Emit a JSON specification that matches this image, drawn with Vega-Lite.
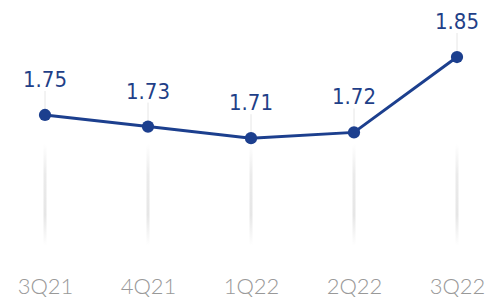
{
  "$schema": "https://vega.github.io/schema/vega-lite/v6.json",
  "width": 491,
  "height": 258,
  "autosize": {"type": "pad"},
  "padding": 0,
  "background": "white",
  "config": {"view": {"stroke": null}},
  "data": {"values": [
    {"q": "3Q21", "v": 1.75},
    {"q": "4Q21", "v": 1.73},
    {"q": "1Q22", "v": 1.71},
    {"q": "2Q22", "v": 1.72},
    {"q": "3Q22", "v": 1.85}
  ]},
  "encoding": {
    "x": {"field": "q", "type": "ordinal", "sort": null,
      "scale": {"type": "point", "range": [45, 457], "padding": 0},
      "axis": {"title": null, "domain": false, "ticks": false, "grid": false, "labelAngle": 0,
        "labelFont": "Lato", "labelFontSize": 22, "labelFontWeight": 300, "labelColor": "#999999",
        "labelBaseline": "alphabetic", "labelPadding": 35}}
  },
  "layer": [
    {
      "mark": {"type": "bar", "size": 3,
        "color": {"gradient": "linear", "x1": 0, "y1": 0, "x2": 0, "y2": 1,
          "stops": [
            {"offset": 0, "color": "#ffffff"},
            {"offset": 0.3, "color": "#ebebeb"},
            {"offset": 0.7, "color": "#e6e6e6"},
            {"offset": 1, "color": "#ffffff"}
          ]}},
      "encoding": {
        "y": {"datum": 1.70, "type": "quantitative", "scale": {"domain": [1.5034, 1.9483], "zero": false, "nice": false}, "axis": null},
        "y2": {"datum": 1.525}
      }
    },
    {
      "mark": {"type": "rule", "color": "#e6e6e6", "strokeWidth": 1, "y2Offset": -24},
      "encoding": {
        "y": {"field": "v", "type": "quantitative"},
        "y2": {"field": "v"}
      }
    },
    {
      "mark": {"type": "line", "color": "#1c3f8e", "strokeWidth": 3},
      "encoding": {"y": {"field": "v", "type": "quantitative"}}
    },
    {
      "mark": {"type": "point", "filled": true, "opacity": 1, "size": 150, "color": "#1c3f8e"},
      "encoding": {"y": {"field": "v", "type": "quantitative"}}
    },
    {
      "mark": {"type": "text", "font": "DejaVu Sans Condensed", "fontSize": 22, "color": "#1f3f88", "baseline": "alphabetic", "dy": -28},
      "encoding": {
        "y": {"field": "v", "type": "quantitative"},
        "text": {"field": "v", "type": "quantitative", "format": ".2f"}
      }
    }
  ]
}
